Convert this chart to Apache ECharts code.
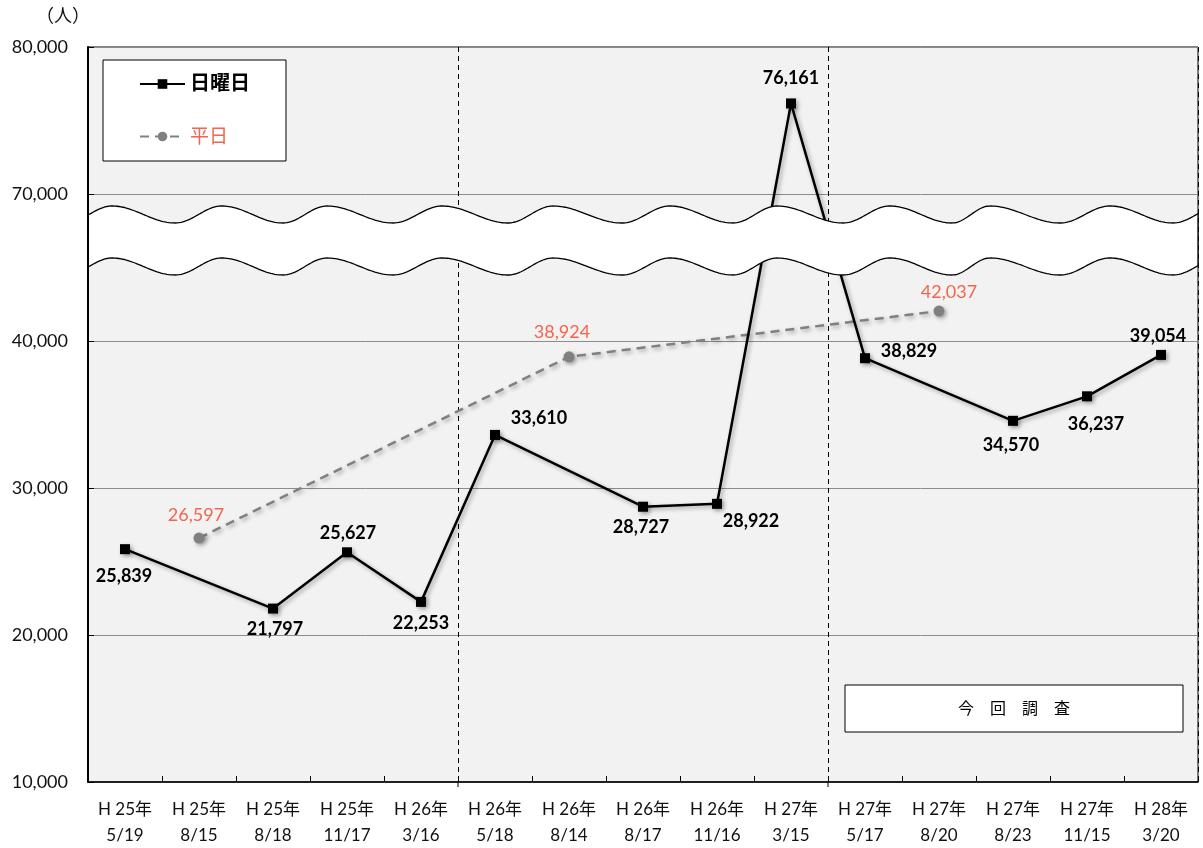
<!DOCTYPE html>
<html><head><meta charset="utf-8">
<script src="https://cdn.jsdelivr.net/npm/echarts@6/dist/echarts.min.js"></script>
<style>html,body{margin:0;padding:0;background:#fff}#c{width:1203px;height:848px}</style>
</head><body><div id="c"></div>
<script>
const categories = ['H 25年\n5/19','H 25年\n8/15','H 25年\n8/18','H 25年\n11/17','H 26年\n3/16',
  'H 26年\n5/18','H 26年\n8/14','H 26年\n8/17','H 26年\n11/16','H 27年\n3/15',
  'H 27年\n5/17','H 27年\n8/20','H 27年\n8/23','H 27年\n11/15','H 28年\n3/20'];
const sundayValues = [25839, null, 21797, 25627, 22253, 33610, null, 28727, 28922, 76161, 38829, null, 34570, 36237, 39054];
const weekdayValues = [null, 26597, null, null, null, null, 38924, null, null, null, null, 42037, null, null, null];
const yTickLabels = ['10,000','20,000','30,000','40,000','70,000','80,000'];
const seriesNames = ['日曜日','平日'];

// label placement (style only)
const sundayLabelOffsets = {0:[-1,27],2:[2,21],3:[1,-19],4:[0,21],5:[44,-17],7:[-2,20],8:[34,17],9:[0,-25],10:[44,-7],12:[-2,24],13:[9,28],14:[-3,-19]};
const weekdayLabelOffsets = {1:[-3,-23],6:[-7,-25],11:[10,-19]};

// broken axis: values >= 70000 are shifted down by 20000
const tr = v => v == null ? null : (v >= 70000 ? v - 20000 : v);
const fmt = v => v.toLocaleString('en-US');
const FONT = 'Lato, "Noto Sans CJK JP", sans-serif';
const SALMON = '#f5654d';
const shadow = {shadowBlur: 4, shadowColor: 'rgba(0,0,0,0.35)', shadowOffsetX: 2, shadowOffsetY: 2};

function mkData(vals, offs, lblStyle) {
  return vals.map((v, i) => {
    if (v == null) return null;
    const o = offs[i] || [0, -20];
    return {value: tr(v), label: Object.assign({show: true, position: 'inside', offset: o,
      formatter: () => fmt(v)}, lblStyle)};
  });
}

// wave break band (decoration)
const GL = 88, GR = 1198, GB = 782;
const ext = [66,112,175,222,283,327,393,442,508,553,622,670,733,777,843,890,952,990,1060,1110,1173,1220];
function yAt(x, pk, tg) {
  let i = 0;
  while (i < ext.length - 2 && x >= ext[i + 1]) i++;
  const y0 = i % 2 === 0 ? tg : pk, y1 = i % 2 === 0 ? pk : tg;
  const u = (x - ext[i]) / (ext[i + 1] - ext[i]);
  return y0 + (y1 - y0) * (1 - Math.cos(Math.PI * u)) / 2;
}
const topPts = [], botPts = [];
for (let x = GL + 1; x <= GR; x += 2) { topPts.push([x, yAt(x, 206, 223)]); botPts.push([x, yAt(x, 258, 275)]); }
if (topPts[topPts.length-1][0] !== GR) { topPts.push([GR, yAt(GR,206,223)]); botPts.push([GR, yAt(GR,258,275)]); }
const bandPoly = topPts.concat(botPts.slice().reverse());
const catW = (GR - GL) / categories.length;

const chart = echarts.init(document.getElementById('c'));
chart.setOption({
  animation: false,
  backgroundColor: '#fff',
  grid: {left: GL, right: 1203 - GR, top: 47, bottom: 848 - GB, show: true, backgroundColor: '#f2f2f2',
    borderColor: '#000', borderWidth: 1, containLabel: false, outerBoundsMode: 'none'},
  legend: {
    orient: 'vertical', left: 103, top: 60, padding: [14, 36, 15, 36], itemGap: 33,
    itemWidth: 45, itemHeight: 12, backgroundColor: '#fff', borderColor: '#000', borderWidth: 1,
    borderRadius: 0,
    textStyle: {fontFamily: FONT, fontSize: 19},
    data: [{name: seriesNames[0], textStyle: {fontWeight: 'bold', color: '#000', fontSize: 20}},
           {name: seriesNames[1], textStyle: {color: SALMON, fontSize: 19}}]
  },
  xAxis: {
    type: 'category', data: categories, boundaryGap: true,
    axisLine: {lineStyle: {color: '#000', width: 1.5}},
    axisTick: {show: true, inside: true, length: 6, lineStyle: {color: '#000'}, alignWithLabel: false},
    axisLabel: {interval: 0, margin: 15, color: '#111', fontFamily: FONT, fontSize: 17, lineHeight: 26},
    splitLine: {show: true, interval: (i) => i === 5 || i === 10, lineStyle: {color: '#000', type: [5, 4], width: 1}}
  },
  yAxis: {
    type: 'value', min: 10000, max: 60000, interval: 10000,
    axisLine: {show: true, lineStyle: {color: '#000', width: 2}},
    axisTick: {show: true, inside: true, length: 6, lineStyle: {color: '#000'}},
    axisLabel: {margin: 20, color: '#111', fontFamily: FONT, fontSize: 18,
      formatter: v => yTickLabels[Math.round((v - 10000) / 10000)]},
    splitLine: {show: true, lineStyle: {color: '#8c8c8c', width: 1}}
  },
  series: [
    {name: seriesNames[0], type: 'line', connectNulls: true, symbol: 'rect', symbolSize: 10,
      data: mkData(sundayValues, sundayLabelOffsets, {color: '#000', fontWeight: 'bold', fontSize: 18, fontFamily: FONT}),
      lineStyle: Object.assign({color: '#000', width: 2.5}, shadow),
      itemStyle: Object.assign({color: '#000'}, shadow), z: 3},
    {name: seriesNames[1], type: 'line', connectNulls: true, symbol: 'circle', symbolSize: 11,
      data: mkData(weekdayValues, weekdayLabelOffsets, {color: SALMON, fontSize: 18, fontFamily: FONT}),
      lineStyle: Object.assign({color: '#808080', width: 2.5, type: [9, 6]}, shadow),
      itemStyle: Object.assign({color: '#808080'}, shadow), z: 2}
  ],
  graphic: [
    {type: 'polygon', shape: {points: bandPoly}, style: {fill: '#fff', stroke: null}, z: 50},
    {type: 'polyline', shape: {points: topPts}, style: {stroke: '#000', lineWidth: 1.3, fill: null}, z: 51},
    {type: 'polyline', shape: {points: botPts}, style: {stroke: '#000', lineWidth: 1.3, fill: null}, z: 51},
    {type: 'line', shape: {x1: GR, y1: topPts[topPts.length-1][1], x2: GR, y2: botPts[botPts.length-1][1]}, style: {stroke: '#000', lineWidth: 1.3}, z: 51},
    {type: 'line', shape: {x1: GL + 5 * catW, y1: GB, x2: GL + 5 * catW, y2: GB + 9}, style: {stroke: '#000', lineWidth: 1, lineDash: [5, 4]}, z: 51},
    {type: 'line', shape: {x1: GL + 10 * catW, y1: GB, x2: GL + 10 * catW, y2: GB + 9}, style: {stroke: '#000', lineWidth: 1, lineDash: [5, 4]}, z: 51},
    {type: 'text', left: 36, top: 7, style: {text: '（人）', fontSize: 18, fontFamily: FONT, fill: '#111'}, z: 60},
    {type: 'rect', shape: {x: 845, y: 685, width: 338, height: 47}, style: {fill: '#fff', stroke: '#000', lineWidth: 1}, z: 60},
    {type: 'text', x: 1014, y: 709, style: {text: '今　回　調　査', fontSize: 16, fontFamily: FONT, fill: '#000', align: 'center', verticalAlign: 'middle'}, z: 61}
  ]
});
</script></body></html>
